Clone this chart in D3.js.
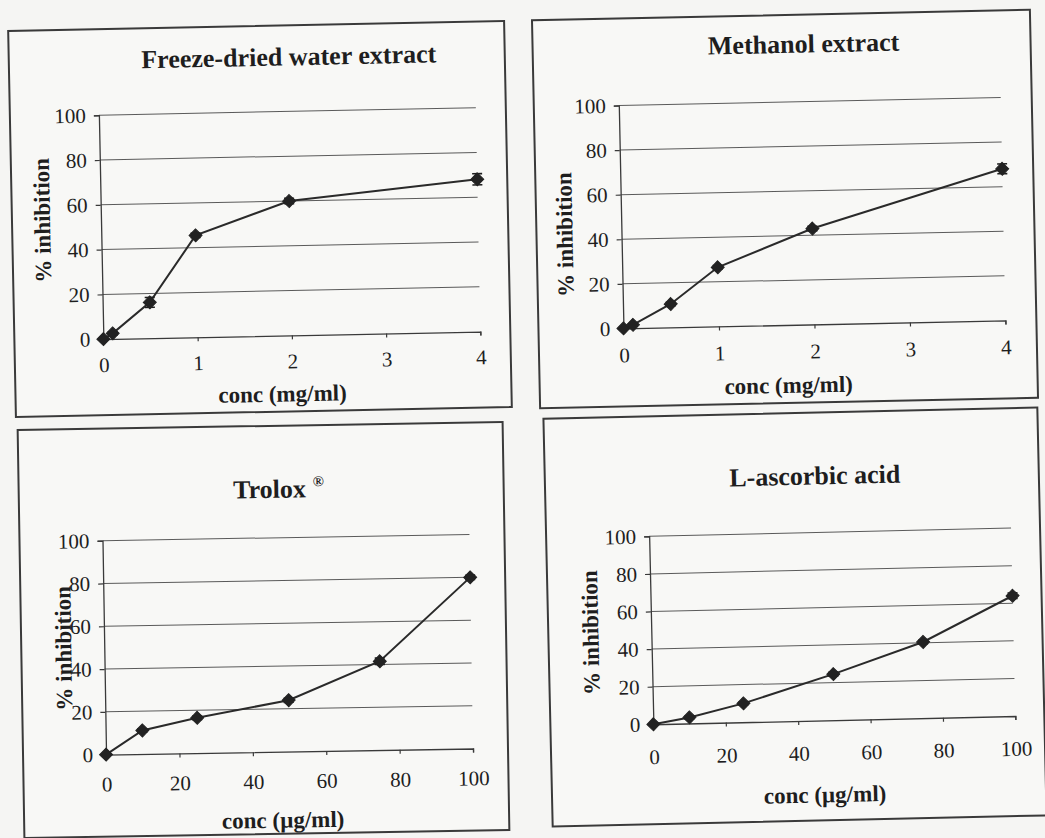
<!DOCTYPE html>
<html>
<head>
<meta charset="utf-8">
<script src="https://cdn.jsdelivr.net/npm/d3@7"></script>
<style>
  html, body { margin: 0; padding: 0; background: #f5f5f3; }
  svg { display: block; }
  text { font-family: "Liberation Serif", "Times New Roman", serif; fill: #1e1e1e; }
</style>
</head>
<body>
<svg id="fig" width="1045" height="838"></svg>
<script>
// Concentrations and % inhibition for each antioxidant assay
const concMg = [0, 0.1, 0.5, 1, 2, 4];
const waterInhibition = [0, 2.5, 16, 45.5, 60, 68];
const waterError = [0, 0.8, 2.2, 1, 1.2, 2.5];
const methanolInhibition = [0, 1.5, 10.5, 26.5, 43, 68];
const methanolError = [0, 0.5, 0.8, 0.8, 1, 2.2];

const concUg = [0, 10, 25, 50, 75, 100];
const troloxInhibition = [0, 11, 16.5, 24, 41.5, 80];
const troloxError = [0, 0.8, 0.8, 1, 1.5, 1];
const ascorbicInhibition = [0, 3.2, 10, 24.5, 40.5, 64];
const ascorbicError = [0, 0.8, 0.8, 1, 1, 1.5];

const mgTicks = [0, 1, 2, 3, 4];
const ugTicks = [0, 20, 40, 60, 80, 100];
const pctTicks = [0, 20, 40, 60, 80, 100];

const titles = ["Freeze-dried water extract", "Methanol extract", "Trolox", "L-ascorbic acid"];
const xTitles = ["conc (mg/ml)", "conc (mg/ml)", "conc (\u00b5g/ml)", "conc (\u00b5g/ml)"];
const yTitle = "% inhibition";

const panels = [
  { x: concMg, y: waterInhibition, err: waterError, xTicks: mgTicks, title: titles[0], xTitle: xTitles[0] },
  { x: concMg, y: methanolInhibition, err: methanolError, xTicks: mgTicks, title: titles[1], xTitle: xTitles[1] },
  { x: concUg, y: troloxInhibition, err: troloxError, xTicks: ugTicks, title: titles[2], xTitle: xTitles[2], mark: "\u00ae" },
  { x: concUg, y: ascorbicInhibition, err: ascorbicError, xTicks: ugTicks, title: titles[3], xTitle: xTitles[3] }
];

// Frame and plot geometry of each panel
const layout = [
  { box: [12, 26, 496, 386], angle: -1.15, px: [101, 478], py: [336, 112], titleAt: [292, 66], xtAt: [279, 402], ytAt: [50, 216], pad: 14 },
  { box: [536, 15, 498, 388], angle: -1.2, px: [621, 1003], py: [325, 102], titleAt: [807, 53], xtAt: [785, 393], ytAt: [572, 230], pad: 15 },
  { box: [21, 426, 485, 408], angle: -0.95, px: [104, 471], py: [752, 538], titleAt: [281, 498], xtAt: [280, 828], ytAt: [71, 645], pad: 18 },
  { box: [548, 413, 494, 408], angle: -1.3, px: [651, 1013], py: [721, 533], titleAt: [818, 485], xtAt: [821, 803], ytAt: [598, 628], pad: 21 }
];

const svg = d3.select("#fig");

panels.forEach((p, i) => {
  const L = layout[i];
  const [bx, by, bw, bh] = L.box;
  const cx = bx + bw / 2, cy = by + bh / 2;
  const g = svg.append("g").attr("transform", `rotate(${L.angle},${cx},${cy})`);

  // Frame
  g.append("rect")
    .attr("x", bx).attr("y", by).attr("width", bw).attr("height", bh)
    .attr("fill", "#f8f8f6").attr("stroke", "#3a3a3a").attr("stroke-width", 2);

  const xs = d3.scaleLinear().domain([p.xTicks[0], p.xTicks[p.xTicks.length - 1]]).range(L.px);
  const ys = d3.scaleLinear().domain([0, 100]).range(L.py);

  // Horizontal gridlines
  g.append("g").selectAll("line").data(pctTicks.slice(1)).join("line")
    .attr("x1", L.px[0]).attr("x2", L.px[1])
    .attr("y1", d => ys(d)).attr("y2", d => ys(d))
    .attr("stroke", "#5a5a5a").attr("stroke-width", 1);

  // Axes
  const ya = g.append("g").attr("transform", `translate(${L.px[0]},0)`)
    .call(d3.axisLeft(ys).tickValues(pctTicks).tickFormat(d3.format("d")).tickSize(5).tickPadding(8));
  const xa = g.append("g").attr("transform", `translate(0,${L.py[0]})`)
    .call(d3.axisBottom(xs).tickValues(p.xTicks).tickFormat(d3.format("d")).tickSize(4).tickPadding(L.pad));
  [ya, xa].forEach(a => {
    a.select(".domain").attr("stroke", "#3a3a3a").attr("stroke-width", 1.3);
    a.selectAll(".tick line").attr("stroke", "#3a3a3a").attr("stroke-width", 1.2);
    a.selectAll(".tick text").attr("font-size", 21)
      .attr("font-family", "Liberation Serif, Times New Roman, serif").attr("fill", "#222");
  });

  const pts = p.x.map((v, k) => ({ x: v, y: p.y[k], e: p.err[k] }));

  // Data line
  g.append("path").datum(pts)
    .attr("fill", "none").attr("stroke", "#2a2a2a").attr("stroke-width", 2)
    .attr("d", d3.line().x(d => xs(d.x)).y(d => ys(d.y)));

  // Error bars
  const eb = g.append("g").attr("stroke", "#1e1e1e").attr("stroke-width", 1.6);
  pts.filter(d => d.e > 0).forEach(d => {
    const X = xs(d.x), y1 = ys(d.y + d.e), y2 = ys(d.y - d.e);
    eb.append("line").attr("x1", X).attr("x2", X).attr("y1", y1).attr("y2", y2);
    eb.append("line").attr("x1", X - 5).attr("x2", X + 5).attr("y1", y1).attr("y2", y1);
    eb.append("line").attr("x1", X - 5).attr("x2", X + 5).attr("y1", y2).attr("y2", y2);
  });

  // Diamond markers
  g.append("g").selectAll("path").data(pts).join("path")
    .attr("transform", d => `translate(${xs(d.x)},${ys(d.y)})`)
    .attr("d", "M0,-6.5L6.5,0L0,6.5L-6.5,0Z")
    .attr("fill", "#222").attr("stroke", "#222").attr("stroke-width", 1);

  // Titles
  const t = g.append("text").attr("x", L.titleAt[0]).attr("y", L.titleAt[1])
    .attr("text-anchor", "middle").attr("font-size", 26).attr("font-weight", "bold")
    .text(p.title);
  if (p.mark) {
    t.append("tspan").attr("dx", 7).attr("dy", -11).attr("font-size", 15).text(p.mark);
  }
  g.append("text").attr("x", L.xtAt[0]).attr("y", L.xtAt[1])
    .attr("text-anchor", "middle").attr("font-size", 23).attr("font-weight", "bold")
    .text(p.xTitle);
  g.append("text")
    .attr("transform", `translate(${L.ytAt[0]},${L.ytAt[1]}) rotate(-90)`)
    .attr("text-anchor", "middle").attr("font-size", 23).attr("font-weight", "bold")
    .text(yTitle);
});
</script>
</body>
</html>
